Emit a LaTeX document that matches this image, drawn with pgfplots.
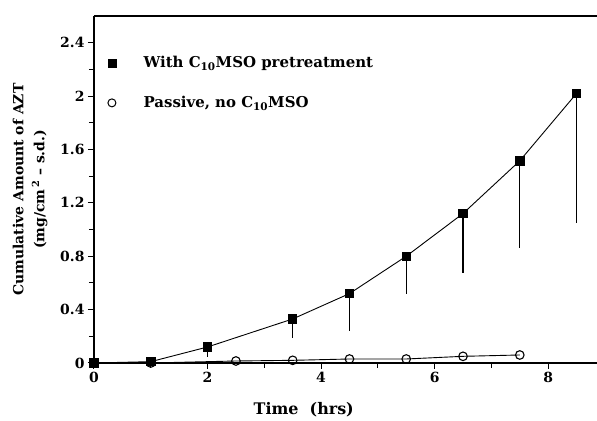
\documentclass[border=0pt]{standalone}
\usepackage{fontspec}
\setmainfont{DejaVu Serif}
\usepackage{pgfplots}
\pgfplotsset{compat=1.18}
\begin{document}
\begin{tikzpicture}
\begin{axis}[
  name=ax,
  scale only axis,
  width=503bp, height=347bp,
  xmin=0, xmax=8.86, ymin=0, ymax=2.6,
  axis x line*=box, axis y line*=left,
  xtick pos=left,
  axis line style={line width=1.3bp},
  tick style={line width=1bp,black},
  tick align=outside,
  major tick length=6bp, minor tick length=5bp,
  xtick={0,2,4,6,8}, ytick={0,0.4,0.8,1.2,1.6,2,2.4},
  yticklabels={0,0.4,0.8,1.2,1.6,2,2.4},
  minor x tick num=1, minor y tick num=1,
  ticklabel style={font=\bfseries\fontsize{14}{16}\selectfont},
  /pgf/number format/assume math mode=true,
  xlabel={Time\ \ (hrs)},
  xlabel style={font=\bfseries\fontsize{16}{18}\selectfont, at={(axis description cs:0.417,0)}, anchor=north, yshift=-36bp},
  ylabel={Cumulative Amount of AZT\\(mg/cm\textsuperscript{\,2} -- s.d.)},
  ylabel style={font=\bfseries\fontsize{14}{21}\selectfont, align=center, at={(axis description cs:0,0.5)}, anchor=south, yshift=43bp},
  legend style={draw=none, fill=none, font=\bfseries\fontsize{15}{17}\selectfont,
    at={(axis description cs:0.012,0.895)}, anchor=north west, row sep=23bp},
  legend cell align=left,
  legend image code/.code={\draw[#1] plot coordinates {(0.3cm,0cm)}; \path (0cm,0cm) (38bp,0cm);},
]
\addlegendimage{only marks, mark=square*, mark size=3.8bp, black}
\addlegendentry{With C\textsubscript{10}MSO pretreatment}
\addlegendimage{only marks, mark=o, mark size=4bp, black, mark options={fill=white, line width=1bp}}
\addlegendentry{Passive, no C\textsubscript{10}MSO}

\addplot[forget plot, black, line width=0.9bp, mark=o, mark size=4.3bp, mark options={fill=white, line width=1.1bp}]
 coordinates {(0,0) (1,0) (2.5,0.015) (3.5,0.02) (4.5,0.03) (5.5,0.03) (6.5,0.05) (7.5,0.06)};

\addplot[forget plot, black, line width=0.9bp, mark=square*, mark size=4.2bp,
  error bars/.cd, y dir=minus, y explicit, error mark=none,
  error bar style={line width=1.1bp}]
 coordinates {(0,0) (1,0.01) (2,0.12) -= (0,0.075) (3.5,0.33) -= (0,0.14) (4.5,0.52) -= (0,0.28)
 (5.5,0.80) -= (0,0.28) (6.5,1.12) -= (0,0.445) (7.5,1.515) -= (0,0.655) (8.5,2.02) -= (0,0.97)};
\end{axis}
\pgfresetboundingbox
\path ([shift={(-94bp,-58bp)}]ax.south west) rectangle ([shift={(0bp,16bp)}]ax.north east);
\end{tikzpicture}
\end{document}
